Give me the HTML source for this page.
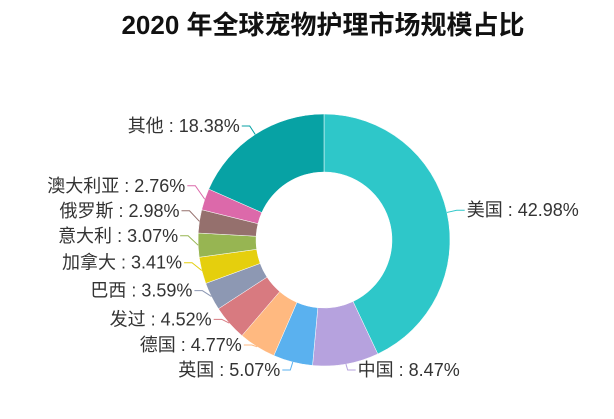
<!DOCTYPE html>
<html><head><meta charset="utf-8"><style>
body{margin:0;background:#fff;width:614px;height:414px;overflow:hidden}
svg text{font-family:"Liberation Sans","Noto Sans CJK SC",sans-serif}
</style></head><body>
<svg id="c" width="614" height="414">
<text x="323" y="34" text-anchor="middle" font-size="26" font-weight="bold" fill="#111">2020 年全球宠物护理市场规模占比</text>
<g id="slices"></g><g id="labels"></g>
</svg>
<script>
const categories=["美国","中国","英国","德国","发过","巴西","加拿大","意大利","俄罗斯","澳大利亚","其他"];
const values=[42.98,8.47,5.07,4.77,4.52,3.59,3.41,3.07,2.98,2.76,18.38];
const colors=["#2ec7c9","#b6a2de","#5ab1ef","#ffb980","#d87a80","#8d98b3","#e5cf0d","#97b552","#95706d","#dc69aa","#07a2a4"];
const cx=324,cy=240,R=126,r=68,NS="http://www.w3.org/2000/svg";
const total=values.reduce((a,b)=>a+b,0);
const gS=document.getElementById('slices'),gL=document.getElementById('labels');
function pt(rad,a){return [cx+rad*Math.cos(a),cy+rad*Math.sin(a)];}
let acc=0;const labs=[];
values.forEach((v,i)=>{
 const a0=-Math.PI/2+acc/total*2*Math.PI;acc+=v;
 const a1=-Math.PI/2+acc/total*2*Math.PI;
 const [x0,y0]=pt(R,a0),[x1,y1]=pt(R,a1),[x2,y2]=pt(r,a1),[x3,y3]=pt(r,a0);
 const lg=(a1-a0)>Math.PI?1:0;
 const p=document.createElementNS(NS,'path');
 p.setAttribute('d',`M${x0},${y0}A${R},${R} 0 ${lg} 1 ${x1},${y1}L${x2},${y2}A${r},${r} 0 ${lg} 0 ${x3},${y3}Z`);
 p.setAttribute('fill',colors[i]);p.setAttribute('stroke','#fff');p.setAttribute('stroke-width','0.5');
 
 
 gS.appendChild(p);
 const am=(a0+a1)/2;const [ex,ey]=pt(R,am),[mx,my]=pt(R+10,am);
 labs.push({i,am,ex,ey,mx,my,y:my,right:Math.cos(am)>=0});
});
[true,false].forEach(side=>{
 const L=labs.filter(l=>l.right===side).sort((a,b)=>a.y-b.y);
 for(let k=1;k<L.length;k++){if(L[k].y-L[k-1].y<25)L[k].y=L[k-1].y+25;}
 const maxY=370;
 if(L.length&&L[L.length-1].y>maxY){let s=L[L.length-1].y-maxY;for(let k=L.length-1;k>=0;k--){L[k].y-=s;if(k>0&&L[k].y-L[k-1].y>=25)break;}}
 for(let k=L.length-2;k>=0;k--){if(L[k+1].y-L[k].y<25)L[k].y=L[k+1].y-25;}
});
labs.forEach(l=>{
 const dir=l.right?1:-1;const hx=l.mx+dir*8;
 const pl=document.createElementNS(NS,'polyline');
 pl.setAttribute('points',`${l.ex},${l.ey} ${l.mx},${l.y} ${hx},${l.y}`);
 pl.setAttribute('fill','none');pl.setAttribute('stroke',colors[l.i]);pl.setAttribute('stroke-width','1');
 
 
 gL.appendChild(pl);
 const t=document.createElementNS(NS,'text');
 t.setAttribute('x',hx+dir*2);t.setAttribute('y',l.y+6);
 t.setAttribute('text-anchor',l.right?'start':'end');
 t.setAttribute('font-size','18');t.setAttribute('fill','#333');
 t.textContent=categories[l.i]+' : '+values[l.i].toFixed(2)+'%';
 
 
 gL.appendChild(t);
});
</script>
</body></html>
